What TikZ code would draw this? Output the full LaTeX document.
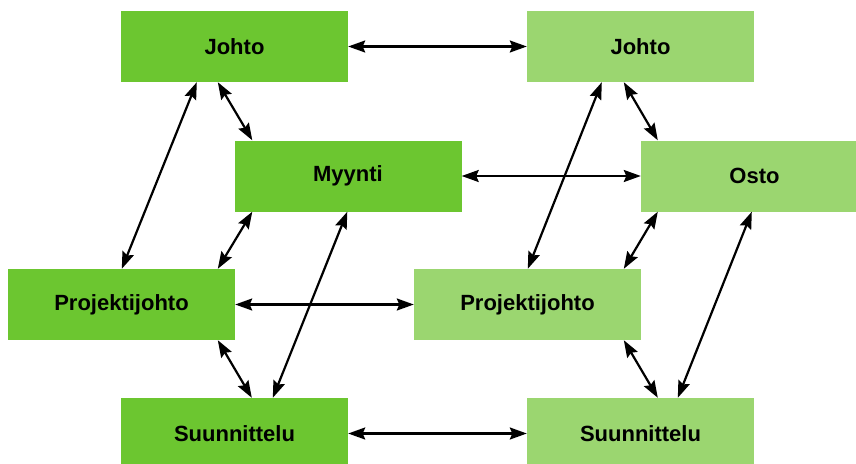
\documentclass[tikz,border=0pt]{standalone}
\usepackage{fontspec}
\setmainfont{Liberation Sans}
\usetikzlibrary{arrows.meta,calc}
\definecolor{darkgreen}{RGB}{108,198,48}
\definecolor{lightgreen}{RGB}{155,214,112}
\begin{document}
\begin{tikzpicture}[x=1pt,y=-1pt,
  unit/.style={rectangle,minimum width=227pt,minimum height=71pt,inner sep=0pt,
    font=\fontsize{22}{26}\selectfont\bfseries,text=black},
  own/.style={unit,fill=darkgreen},
  partner/.style={unit,fill=lightgreen},
  tip/.style={Stealth[length=17pt,width=12pt,inset=2.5pt]},
  link/.style={line width=2.2pt,{Stealth[length=17pt,width=12pt,inset=2.5pt]}-{Stealth[length=17pt,width=12pt,inset=2.5pt]}}]
\useasboundingbox (0,0) rectangle (856,463);
\fill[white] (0,0) rectangle (856,463);
\clip (0,0) rectangle (856,463);

% left organisation
\node[own] (JL) at (234.5,46.5) {Johto};
\node[own] (MY) at (348,176) {Myynti};
\node[own] (PL) at (121.5,304.5) {Projektijohto};
\node[own] (SL) at (234.5,433.5) {Suunnittelu};

% right organisation
\node[partner] (JR) at (640.5,46.5) {Johto};
\node[partner] (OS) at (754.5,176) {Osto};
\node[partner] (PR) at (527.5,304.5) {Projektijohto};
\node[partner] (SR) at (640.5,433.5) {Suunnittelu};

% links between the organisations
\draw[link] (JL.east) -- (JR.west);
\draw[link] (MY.east) -- (OS.west);
\draw[link] (PL.east) -- (PR.west);
\draw[link] (SL.east) -- (SR.west);

% links inside the left organisation
\draw[link] ($(JL.south west)+(76,0)$) -- ($(PL.north west)+(114,0)$);
\draw[link] ($(JL.south west)+(97,0)$) -- ($(MY.north west)+(18,0)$);
\draw[link] ($(MY.south west)+(18,0)$) -- ($(PL.north west)+(210,0)$);
\draw[link] ($(MY.south west)+(113,0)$) -- ($(SL.north west)+(152,0)$);
\draw[link] ($(PL.south west)+(210,0)$) -- ($(SL.north west)+(131,0)$);

% links inside the right organisation
\draw[link] ($(JR.south west)+(75,0)$) -- ($(PR.north west)+(114,0)$);
\draw[link] ($(JR.south west)+(97,0)$) -- ($(OS.north west)+(17,0)$);
\draw[link] ($(OS.south west)+(17,0)$) -- ($(PR.north west)+(210,0)$);
\draw[link] ($(OS.south west)+(111,0)$) -- ($(SR.north west)+(151,0)$);
\draw[link] ($(PR.south west)+(210,0)$) -- ($(SR.north west)+(131,0)$);
\end{tikzpicture}
\end{document}
